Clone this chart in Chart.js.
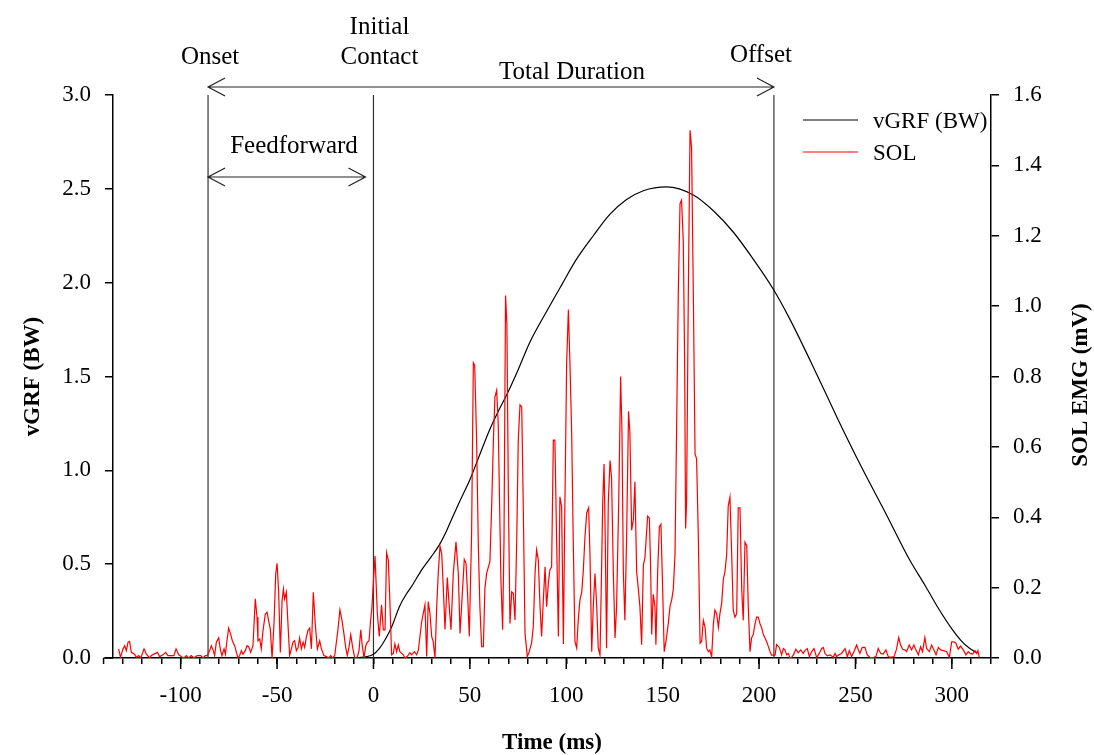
<!DOCTYPE html>
<html>
<head>
<meta charset="utf-8">
<script src="https://cdn.jsdelivr.net/npm/chart.js@4.4.1/dist/chart.umd.min.js"></script>
<style>
  html, body { margin: 0; padding: 0; background: #fff; }
  canvas { display: block; }
</style>
</head>
<body>
<canvas id="emg" width="1094" height="755"></canvas>
<script>
// SOL EMG trace, time in ms and amplitude in mV
const emgTime = [
  -132.2, -131.2, -129.9, -129.0, -128.2, -127.3, -126.5, -125.6, -123.9, -123.0,
  -121.8, -120.7, -119.0, -117.8, -116.1, -115.2, -113.8, -112.1, -110.9, -109.2,
  -107.8, -106.6, -103.5, -102.4, -101.0, -99.7, -98.3, -97.1, -95.9, -94.5,
  -93.1, -91.4, -89.6, -88.4, -87.2, -86.2, -85.0, -84.1, -83.1, -82.4,
  -81.5, -80.3, -79.3, -78.6, -77.5, -76.8, -76.0, -75.1, -74.1, -73.2,
  -72.0, -71.1, -70.3, -69.4, -68.5, -67.7, -66.5, -65.6, -64.7, -63.7,
  -62.5, -61.3, -60.4, -59.9, -59.0, -58.2, -57.3, -56.1, -55.2, -54.4,
  -53.5, -52.6, -51.6, -50.7, -50.0, -49.2, -48.3, -47.4, -46.7, -46.1,
  -45.2, -44.3, -43.5, -42.6, -41.7, -40.9, -40.0, -39.1, -38.3, -37.4,
  -36.5, -35.7, -34.8, -34.0, -33.1, -32.2, -31.2, -30.2, -29.1, -27.9,
  -27.0, -25.7, -24.4, -23.2, -22.2, -21.3, -20.1, -18.4, -17.4, -16.3,
  -15.3, -14.4, -13.6, -12.7, -11.8, -10.8, -9.7, -8.5, -7.5, -6.6,
  -5.8, -4.9, -4.0, -3.2, -2.3, -1.5, -0.8, 0.0, 0.8, 2.0,
  3.0, 4.2, 5.1, 6.0, 6.8, 7.7, 8.6, 9.4, 10.3, 11.1,
  12.0, 12.9, 13.7, 15.5, 16.3, 17.5, 18.9, 19.8, 21.2, 22.4,
  23.3, 25.0, 26.7, 27.6, 28.4, 29.3, 30.2, 31.0, 31.9, 32.8,
  33.6, 34.5, 35.4, 36.2, 37.1, 38.3, 39.3, 40.2, 41.4, 42.8,
  44.0, 44.9, 45.7, 47.1, 48.0, 48.8, 49.7, 50.9, 51.8, 52.5,
  53.5, 54.4, 55.2, 56.1, 57.0, 57.8, 58.7, 60.4, 61.3, 62.2,
  63.0, 63.9, 64.7, 66.1, 67.0, 67.7, 68.5, 69.2, 70.0, 70.8,
  71.7, 72.5, 73.4, 74.3, 75.1, 76.0, 76.9, 77.7, 78.6, 79.8,
  80.8, 82.0, 82.9, 83.8, 84.6, 85.5, 86.4, 87.2, 88.1, 89.0,
  89.8, 90.7, 91.5, 92.4, 93.3, 94.1, 95.0, 95.9, 96.7, 97.6,
  98.5, 99.3, 100.2, 101.1, 101.9, 102.8, 103.6, 104.5, 105.4, 106.2,
  107.1, 108.0, 108.8, 109.7, 110.6, 111.6, 112.3, 113.2, 114.0, 114.9,
  115.8, 116.6, 117.5, 118.3, 118.9, 119.6, 120.2, 120.9, 121.8, 122.7,
  123.5, 124.4, 125.3, 126.1, 127.2, 128.2, 128.9, 129.6, 130.4, 131.3,
  132.3, 133.0, 133.9, 134.8, 135.6, 136.5, 137.4, 138.2, 139.1, 140.0,
  140.8, 142.2, 143.1, 143.8, 144.3, 145.1, 146.0, 146.5, 147.4, 148.3,
  149.1, 150.0, 150.8, 151.7, 152.9, 153.8, 154.7, 155.5, 156.4, 157.2,
  158.1, 159.0, 159.8, 160.7, 161.4, 161.9, 162.4, 163.3, 164.2, 165.0,
  165.9, 166.8, 167.6, 168.5, 169.4, 170.2, 171.1, 172.0, 172.8, 173.7,
  174.5, 175.4, 176.3, 177.1, 178.0, 178.9, 179.7, 180.6, 181.5, 182.3,
  183.2, 184.0, 184.9, 185.8, 186.6, 187.5, 188.4, 189.2, 190.1, 191.0,
  191.8, 192.7, 193.6, 194.4, 195.3, 196.1, 197.0, 197.9, 198.7, 199.6,
  200.5, 201.3, 202.2, 203.1, 203.9, 204.8, 205.7, 206.5, 208.3, 209.1,
  210.5, 211.7, 212.6, 213.4, 214.3, 215.2, 216.0, 216.9, 217.8, 219.1,
  220.3, 221.6, 222.9, 223.8, 225.0, 226.1, 227.3, 228.5, 229.9, 231.2,
  232.5, 233.3, 234.2, 235.4, 236.8, 238.5, 239.4, 240.2, 241.4, 242.8,
  244.6, 245.8, 246.8, 248.0, 249.2, 250.6, 251.5, 252.3, 253.5, 254.9,
  256.1, 257.5, 259.3, 260.6, 261.8, 263.1, 264.4, 265.8, 267.0, 268.2,
  270.0, 271.3, 272.4, 273.4, 274.5, 275.7, 276.5, 277.9, 279.1, 280.3,
  281.4, 282.6, 283.8, 284.8, 286.0, 286.9, 288.3, 289.5, 290.7, 291.8,
  293.0, 294.2, 295.6, 297.3, 298.7, 299.9, 301.1, 302.1, 303.3, 304.5,
  305.9, 307.3, 308.5, 309.4, 310.8, 312.0, 312.9, 313.5, 314.2
];
const emgMv = [
  0.026, 0.002, 0.026, 0.035, 0.021, 0.045, 0.047, 0.016, 0.011, 0.002,
  0.007, 0, 0.026, 0.011, 0, 0.007, 0.011, 0.016, 0.004, 0.009,
  0.016, 0.007, 0.007, 0.026, 0.009, 0.004, 0, 0.007, 0, 0.007,
  0, 0.007, 0.007, 0, 0.007, 0.007, 0.021, 0.035, 0.021, 0.007,
  0.045, 0.057, 0.021, 0.007, 0.026, 0.011, 0.049, 0.085, 0.068, 0.049,
  0.035, 0.016, 0, 0.007, 0.021, 0.011, 0.021, 0.035, 0.032, 0.016,
  0.035, 0.168, 0.116, 0.049, 0.054, 0.026, 0.078, 0.125, 0.130, 0.106,
  0.082, 0, 0.097, 0.239, 0.269, 0.191, 0.016, 0.163, 0.196, 0.168,
  0.187, 0.092, 0.007, 0.026, 0.045, 0.049, 0.021, 0.030, 0.057, 0.026,
  0.045, 0.030, 0.059, 0.078, 0.085, 0.026, 0.187, 0.097, 0.026, 0.049,
  0.026, 0.007, 0.004, 0, 0.007, 0, 0.007, 0.082, 0.137, 0.106,
  0.068, 0.030, 0.007, 0.030, 0.066, 0.030, 0, 0, 0.021, 0.080,
  0.035, 0, 0.035, 0.045, 0.049, 0.106, 0.144, 0.22, 0.29, 0.127,
  0.061, 0.151, 0.080, 0.080, 0.299, 0.278, 0.146, 0.009, 0.013, 0.040,
  0.018, 0.037, 0.018, 0.009, 0, 0.004, 0.015, 0.009, 0.018, 0.009,
  0.023, 0.103, 0.151, 0.004, 0.160, 0.127, 0.061, 0.046, 0, 0.146,
  0.241, 0.318, 0.297, 0.203, 0.081, 0.229, 0.146, 0.080, 0.241, 0.330,
  0.241, 0.070, 0.146, 0.280, 0.269, 0.184, 0.061, 0.354, 0.839, 0.832,
  0.619, 0.316, 0.146, 0.032, 0.032, 0.198, 0.241, 0.274, 0.430, 0.619,
  0.742, 0.761, 0.667, 0.222, 0.080, 0.335, 1.03, 0.95, 0.449, 0.098,
  0.188, 0.184, 0.108, 0.335, 0.619, 0.719, 0.714, 0.430, 0.070, 0.004,
  0.018, 0.042, 0.089, 0.241, 0.307, 0.278, 0.146, 0.061, 0.165, 0.259,
  0.146, 0.212, 0.250, 0.259, 0.619, 0.619, 0.335, 0.061, 0.458, 0.430,
  0.04, 0.44, 0.84, 0.99, 0.84, 0.64, 0.34, 0.047, 0.028, 0.107,
  0.166, 0.186, 0.245, 0.344, 0.413, 0.427, 0.294, 0.018, 0.146, 0.240,
  0.146, 0.028, 0.008, 0.245, 0.442, 0.551, 0.344, 0.028, 0.442, 0.561,
  0.511, 0.245, 0.057, 0.146, 0.442, 0.800, 0.640, 0.245, 0.107, 0.344,
  0.701, 0.640, 0.363, 0.393, 0.501, 0.245, 0.195, 0.146, 0.038, 0.265,
  0.284, 0.403, 0.398, 0.245, 0.067, 0.181, 0.146, 0.038, 0.245, 0.373,
  0.380, 0.195, 0.018, 0.047, 0.097, 0.146, 0.166, 0.195, 0.294, 0.640,
  1.035, 1.291, 1.301, 1.183, 0.837, 0.368, 0.442, 1.035, 1.500, 1.449,
  1.035, 0.580, 0.566, 0.344, 0.042, 0.047, 0.107, 0.087, 0.028, 0.018,
  0.023, 0.003, 0.097, 0.136, 0.126, 0.087, 0.126, 0.156, 0.225, 0.245,
  0.294, 0.432, 0.457, 0.294, 0.136, 0.116, 0.126, 0.427, 0.427, 0.195,
  0.107, 0.329, 0.319, 0.146, 0.018, 0.057, 0.067, 0.097, 0.116, 0.116,
  0.097, 0.087, 0.067, 0.057, 0.047, 0.033, 0.018, 0.008, 0.008, 0.038,
  0.030, 0.009, 0.027, 0.023, 0.009, 0.013, 0, 0.002, 0.009, 0.025,
  0.015, 0.023, 0.013, 0.021, 0.027, 0.004, 0.018, 0.027, 0.001, 0.013,
  0.027, 0.030, 0.013, 0.006, 0.009, 0.002, 0.013, 0.004, 0.009, 0.013,
  0.027, 0.004, 0.021, 0.004, 0.018, 0.037, 0.023, 0.013, 0.030, 0.030,
  0.009, 0.002, 0.001, 0.004, 0.027, 0.013, 0.011, 0.023, 0.004, 0.002,
  0.004, 0.025, 0.058, 0.037, 0.025, 0.023, 0.018, 0.037, 0.023, 0.037,
  0.023, 0.009, 0.032, 0.018, 0.058, 0.027, 0.018, 0.037, 0.023, 0.009,
  0.030, 0.023, 0.021, 0.018, 0.002, 0.046, 0.046, 0.042, 0.025, 0.034,
  0.023, 0.009, 0.018, 0.013, 0.011, 0.021, 0.013, 0.021, 0.002
];

// vertical ground reaction force, body weights
const grfTime = [-10, -5, 0, 3, 5, 8, 10, 13.5, 17, 20,
  25, 30, 34, 38, 41, 45, 50, 55, 60, 65,
  69, 75, 81, 90, 98, 105, 114, 122.7, 131.3, 140,
  152, 165.9, 176.3, 186.6, 197, 207.4, 215.5, 227, 241, 253,
  266, 278, 286.5, 293, 300, 305, 309, 313];
const grfBw = [0, 0.005, 0.02, 0.05, 0.08, 0.135, 0.18, 0.275, 0.34, 0.385,
  0.47, 0.54, 0.60, 0.68, 0.75, 0.84, 0.95, 1.08, 1.21, 1.32,
  1.40, 1.535, 1.68, 1.85, 1.995, 2.12, 2.25, 2.365, 2.443, 2.49,
  2.51, 2.467, 2.383, 2.27, 2.125, 1.965, 1.815, 1.575, 1.27, 1.02,
  0.765, 0.525, 0.38, 0.265, 0.155, 0.09, 0.053, 0.027];

// onset, initial contact, offset (ms)
const eventMs = [-85.8, 0, 207.7];
const xLabelTicks = [-100, -50, 0, 50, 100, 150, 200, 250, 300];

const SERIF = "'Liberation Serif', 'Times New Roman', serif";
Chart.defaults.color = '#000';
Chart.defaults.font.family = SERIF;

function arrowHead(ctx, x, y, dir) {
  ctx.moveTo(x + dir * 17, y - 9);
  ctx.lineTo(x, y);
  ctx.lineTo(x + dir * 17, y + 9);
}

const extras = {
  id: 'extras',
  afterDraw(chart) {
    const ctx = chart.ctx;
    const x = chart.scales.x;
    const area = chart.chartArea;
    const onset = x.getPixelForValue(eventMs[0]);
    const contact = x.getPixelForValue(eventMs[1]);
    const offset = x.getPixelForValue(eventMs[2]);

    ctx.save();
    // x axis keeps going left of the y axis to -140, plus longer marks at labels
    ctx.strokeStyle = '#000';
    ctx.lineWidth = 1.5;
    ctx.beginPath();
    const p140 = x.getPixelForValue(-140);
    ctx.moveTo(p140, area.bottom);
    ctx.lineTo(area.left, area.bottom);
    ctx.moveTo(p140, area.bottom);
    ctx.lineTo(p140, area.bottom + 6);
    xLabelTicks.forEach(v => {
      const p = x.getPixelForValue(v);
      ctx.moveTo(p, area.bottom);
      ctx.lineTo(p, area.bottom + 11);
    });
    ctx.stroke();

    // arrows
    ctx.lineWidth = 1.2;
    ctx.strokeStyle = '#222';
    const yTotal = area.top - 8;
    const yFeed = area.top + 82;
    ctx.beginPath();
    ctx.moveTo(onset, yTotal);
    ctx.lineTo(offset, yTotal);
    arrowHead(ctx, onset, yTotal, 1);
    arrowHead(ctx, offset, yTotal, -1);
    ctx.moveTo(onset, yFeed);
    ctx.lineTo(contact - 8, yFeed);
    arrowHead(ctx, onset, yFeed, 1);
    arrowHead(ctx, contact - 8, yFeed, -1);
    ctx.stroke();

    // labels
    ctx.fillStyle = '#000';
    ctx.font = '25px ' + SERIF;
    ctx.textAlign = 'center';
    ctx.textBaseline = 'middle';
    ctx.fillText('Onset', onset + 2, 57);
    ctx.fillText('Initial', contact + 6, 27);
    ctx.fillText('Contact', contact + 6, 57);
    ctx.fillText('Total Duration', 572, 72);
    ctx.fillText('Offset', offset - 13, 55);
    ctx.fillText('Feedforward', 294, 146);

    // legend
    ctx.font = '23px ' + SERIF;
    ctx.textAlign = 'left';
    ctx.lineWidth = 1.2;
    ctx.strokeStyle = '#000';
    ctx.beginPath(); ctx.moveTo(803, 120); ctx.lineTo(858, 120); ctx.stroke();
    ctx.fillText('vGRF (BW)', 873, 122);
    ctx.strokeStyle = '#ff0000';
    ctx.beginPath(); ctx.moveTo(803, 152); ctx.lineTo(858, 152); ctx.stroke();
    ctx.fillText('SOL', 873, 154);

    // right axis title reads bottom to top
    ctx.font = 'bold 23px ' + SERIF;
    ctx.textAlign = 'center';
    ctx.translate(1081, 385);
    ctx.rotate(-Math.PI / 2);
    ctx.fillText('SOL EMG (mV)', 0, 0);
    ctx.restore();
  }
};

const eventSets = eventMs.map(t => ({
  data: [{ x: t, y: 0 }, { x: t, y: 3 }],
  borderColor: '#333',
  borderWidth: 1.2,
  pointRadius: 0,
  yAxisID: 'y',
  order: 3
}));

new Chart(document.getElementById('emg').getContext('2d'), {
  type: 'line',
  data: {
    datasets: [
      {
        label: 'SOL',
        data: emgTime.map((t, i) => ({ x: t, y: emgMv[i] })),
        borderColor: '#ff0000',
        borderWidth: 1.2,
        pointRadius: 0,
        yAxisID: 'y2',
        order: 1
      },
      {
        label: 'vGRF (BW)',
        data: grfTime.map((t, i) => ({ x: t, y: grfBw[i] })),
        borderColor: '#000',
        borderWidth: 1.2,
        pointRadius: 0,
        cubicInterpolationMode: 'monotone',
        yAxisID: 'y',
        order: 2
      },
      ...eventSets
    ]
  },
  options: {
    responsive: false,
    animation: false,
    devicePixelRatio: 1,
    layout: { padding: { top: 95, left: 0, right: 0, bottom: 0 } },
    plugins: { legend: { display: false }, tooltip: { enabled: false } },
    scales: {
      x: {
        type: 'linear',
        min: -135.1,
        max: 320.3,
        afterFit: s => { s.height = 97; },
        border: { color: '#000', width: 1.5 },
        grid: { drawOnChartArea: false, color: '#000', lineWidth: 1.5, tickLength: 6 },
        ticks: {
          stepSize: 10,
          includeBounds: false,
          autoSkip: false,
          maxRotation: 0,
          padding: 18,
          font: { size: 23 },
          callback: v => (Math.round(v) % 50 === 0 ? String(Math.round(v)) : '')
        },
        title: {
          display: true,
          text: 'Time (ms)',
          font: { size: 23, weight: 'bold', lineHeight: 1 },
          padding: { top: 0, bottom: 0 }
        }
      },
      y: {
        position: 'left',
        min: 0,
        max: 3,
        afterFit: s => { s.width = 113; },
        border: { color: '#000', width: 1.5 },
        grid: { drawOnChartArea: false, color: '#000', lineWidth: 1.5, tickLength: 8 },
        ticks: { stepSize: 0.5, padding: 14, font: { size: 23 }, callback: v => v.toFixed(1) },
        title: {
          display: true,
          text: 'vGRF (BW)',
          font: { size: 23, weight: 'bold', lineHeight: 1.2 },
          padding: { top: 19, bottom: 0 }
        }
      },
      y2: {
        position: 'right',
        min: 0,
        max: 1.6,
        afterFit: s => { s.width = 103; },
        border: { color: '#000', width: 1.5 },
        grid: { drawOnChartArea: false, color: '#000', lineWidth: 1.5, tickLength: 8 },
        ticks: { stepSize: 0.2, padding: 14, font: { size: 23 }, callback: v => v.toFixed(1) }
      }
    }
  },
  plugins: [extras]
});
</script>
</body>
</html>
